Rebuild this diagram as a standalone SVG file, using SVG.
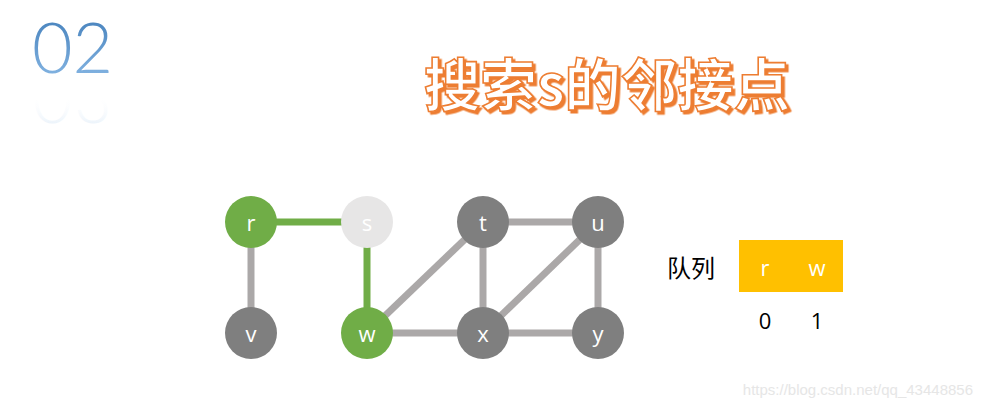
<svg xmlns="http://www.w3.org/2000/svg" xmlns:xlink="http://www.w3.org/1999/xlink" width="983" height="408" viewBox="0 0 983 408">
<defs>
<linearGradient id="g02" x1="0" y1="0" x2="0" y2="1">
<stop offset="0" stop-color="#3B78B5"/>
<stop offset="1" stop-color="#8DBCE8"/>
</linearGradient>
<linearGradient id="g02r" x1="0" y1="0" x2="0" y2="1">
<stop offset="0" stop-color="#A9CBEB" stop-opacity="0.6"/>
<stop offset="0.55" stop-color="#ffffff" stop-opacity="0"/>
</linearGradient>
<filter id="shadow" x="-5%" y="-20%" width="110%" height="140%">
<feDropShadow dx="2.5" dy="2.5" stdDeviation="0" flood-color="#ED7D31" flood-opacity="1"/>
</filter>
<style>
.edge{stroke:#ABA8A8;stroke-width:7;fill:none}
.edge.on{stroke:#70AD47}
.n{fill:#7F7F7F}
.n.on{fill:#70AD47}
.n.cur{fill:#E7E6E6}
.lbl{font-family:"Open Sans","Liberation Sans",sans-serif;font-size:22px;fill:#ffffff;text-anchor:middle;dominant-baseline:central}
.q{font-family:"Open Sans","Liberation Sans",sans-serif;font-size:22px;text-anchor:middle}
.title{font-family:"Noto Sans CJK SC",sans-serif;font-weight:700;font-size:57px}
.num{font-family:Lato,"Open Sans",sans-serif;font-weight:300;font-size:70px}
</style>
</defs>
<rect width="983" height="408" fill="#ffffff"/>
<g id="num02">
<text id="t02" x="32" y="73" class="num" fill="url(#g02)">02</text>
<g transform="translate(0,146) scale(1,-1)"><text x="32" y="73" class="num" fill="url(#g02r)">02</text></g>
</g>
<g id="title" filter="url(#shadow)">
<text x="424" y="106" class="title" textLength="366" lengthAdjust="spacingAndGlyphs" fill="#ffffff" stroke="#ED7D31" stroke-width="1.6">搜索s的邻接点</text>
</g>
<g id="connectors">
<line class="edge on" x1="251" y1="222" x2="367" y2="222"/>
<line class="edge on" x1="367" y1="222" x2="367" y2="333"/>
<line class="edge" x1="251" y1="222" x2="251" y2="333"/>
<line class="edge" x1="483" y1="222" x2="598" y2="222"/>
<line class="edge" x1="367" y1="333" x2="483" y2="222"/>
<line class="edge" x1="483" y1="222" x2="483" y2="333"/>
<line class="edge" x1="483" y1="333" x2="598" y2="222"/>
<line class="edge" x1="598" y1="222" x2="598" y2="333"/>
<line class="edge" x1="367" y1="333" x2="483" y2="333"/>
<line class="edge" x1="483" y1="333" x2="598" y2="333"/>
</g>
<g id="node-r"><circle class="n on" cx="251" cy="222" r="26"/><text class="lbl" x="251" y="222">r</text></g>
<g id="node-s"><circle class="n cur" cx="367" cy="222" r="26"/><text class="lbl" x="367" y="222">s</text></g>
<g id="node-t"><circle class="n" cx="483" cy="222" r="26"/><text class="lbl" x="483" y="222">t</text></g>
<g id="node-u"><circle class="n" cx="598" cy="222" r="26"/><text class="lbl" x="598" y="222">u</text></g>
<g id="node-v"><circle class="n" cx="251" cy="333" r="26"/><text class="lbl" x="251" y="333">v</text></g>
<g id="node-w"><circle class="n on" cx="367" cy="333" r="26"/><text class="lbl" x="367" y="333">w</text></g>
<g id="node-x"><circle class="n" cx="483" cy="333" r="26"/><text class="lbl" x="483" y="333">x</text></g>
<g id="node-y"><circle class="n" cx="598" cy="333" r="26"/><text class="lbl" x="598" y="333">y</text></g>
<g id="queue">
<text x="691" y="277" font-size="24" text-anchor="middle" font-family="'Noto Sans CJK SC',sans-serif" fill="#000000">队列</text>
<rect x="739" y="240" width="104" height="52" fill="#FFC000"/>
<text x="765" y="276" class="q" fill="#ffffff">r</text>
<text x="817" y="276" class="q" fill="#ffffff">w</text>
<text x="765" y="329" class="q" fill="#000000">0</text>
<text x="817" y="329" class="q" fill="#000000">1</text>
</g>
<text x="973" y="395" text-anchor="end" font-family="'Liberation Sans',sans-serif" font-size="15" fill="#E6E6E6">https://blog.csdn.net/qq_43448856</text>
</svg>
